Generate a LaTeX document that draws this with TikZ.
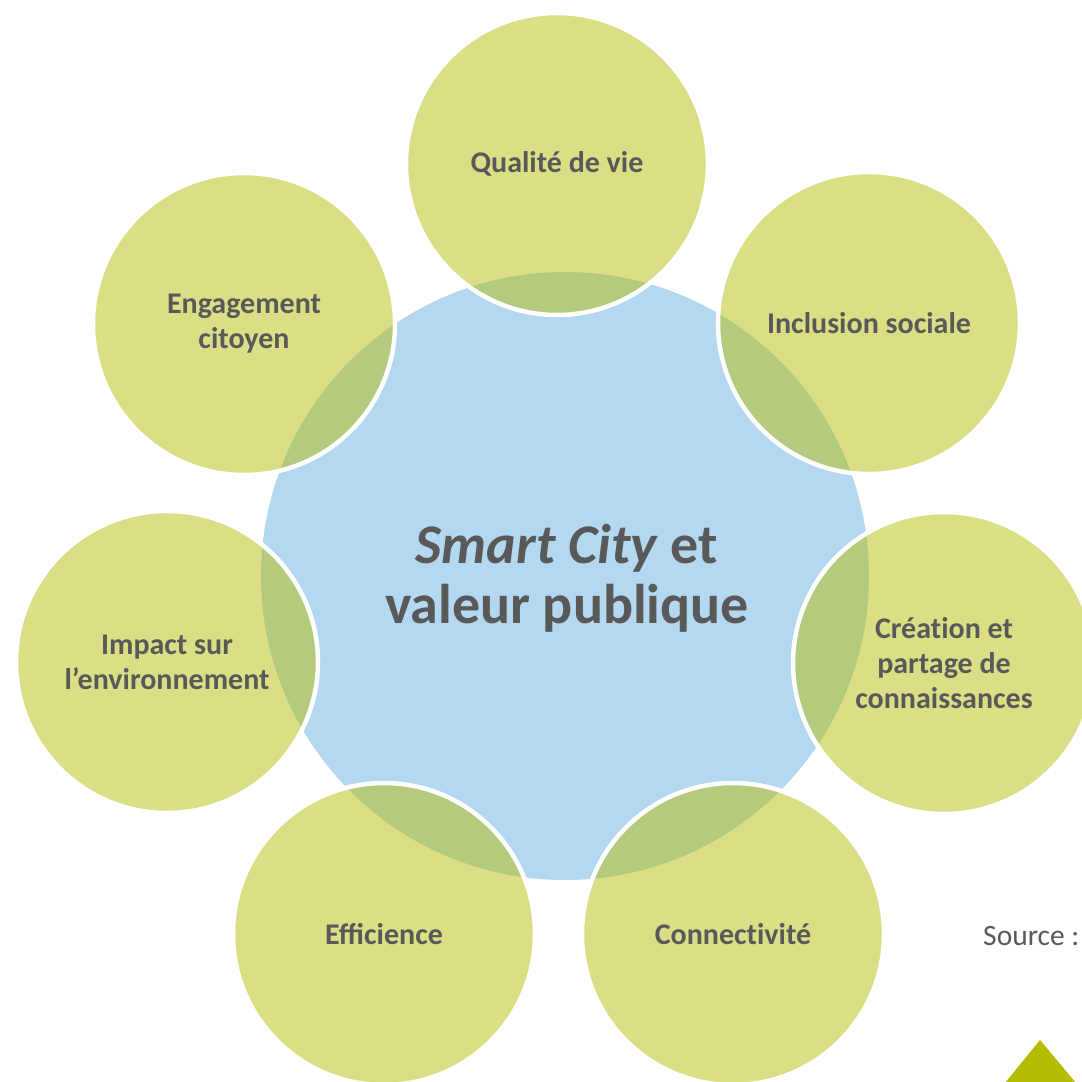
\documentclass[tikz,border=0pt]{standalone}
\usepackage{fontspec}
\setmainfont{Carlito}
\definecolor{ctblue}{RGB}{179,216,240}
\definecolor{ctgreen}{RGB}{181,190,10}
\definecolor{cttri}{RGB}{181,189,0}
\definecolor{cttext}{RGB}{89,89,89}
\begin{document}
\begin{tikzpicture}[x=1pt,y=-1pt,
  hub/.style={circle,fill=ctblue,minimum size=608pt,inner sep=0pt},
  petal/.style={circle,fill=ctgreen,fill opacity=0.5,text opacity=1,
    draw=white,draw opacity=1,line width=4.5pt,minimum size=302pt,inner sep=0pt,
    text=cttext,align=center,font=\fontsize{30}{35}\selectfont\bfseries}]
\useasboundingbox (0,0) rectangle (1082,1082);
\clip (0,0) rectangle (1082,1082);
\node[hub] (hub) at (565,576) {};
\node[petal] (q)  at (557,164) {Qualité de vie};
\node[petal] (in) at (869,323) {Inclusion sociale};
\node[petal] (cr) at (944,663) {Créat\kern0pt ion et\\partage de\\connaissances};
\node[petal] (co) at (733,934) {Connect\kern0pt ivité};
\node[petal] (ef) at (384,934) {Efficience};
\node[petal] (im) at (167,662) {Impact sur\\l’environnement};
\node[petal] (en) at (244,324) {Engagement\\citoyen};
\node[text=cttext,align=center,font=\fontsize{56}{60}\selectfont\bfseries] (title) at (567,578)
  {\textit{Smart City} et\\valeur publique};
\node[text=cttext,anchor=west,font=\fontsize{29.5}{34}\selectfont,inner sep=0pt] (src) at (983,936) {Source :};
\fill[cttri] (1005,1083) -- (1040,1040) -- (1076,1083) -- cycle;
\end{tikzpicture}
\end{document}
